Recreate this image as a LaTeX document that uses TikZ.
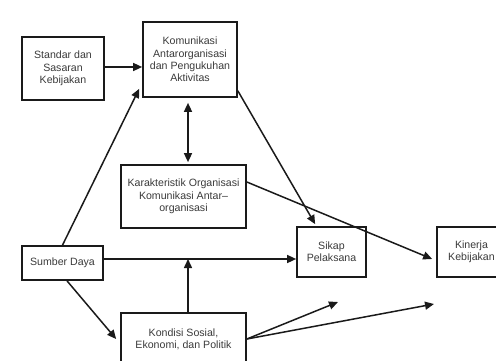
\documentclass[tikz,border=0pt]{standalone}
\usepackage{fontspec}
\setmainfont{Liberation Sans}
\usetikzlibrary{arrows.meta,calc}
\definecolor{txt}{HTML}{3A3A3A}
\definecolor{ln}{HTML}{1A1A1A}
\begin{document}
\begin{tikzpicture}[x=1pt,y=-1pt,
  box/.style={draw=ln,line width=1.7pt,align=center,inner sep=0pt,text=txt,
    font=\fontsize{10.6}{12.3}\selectfont},
  arr/.style={draw=ln,line width=1.5pt,-{Triangle[length=9pt,width=8pt]}},
  darr/.style={draw=ln,line width=1.5pt,{Triangle[length=9pt,width=8pt]}-{Triangle[length=9pt,width=8pt]}}]
\useasboundingbox (0,0) rectangle (496,361);
\clip (0,0) rectangle (496,361);
\node[box,minimum width=82pt,minimum height=63pt] (std) at (63,68.5) {Standar dan\\Sasaran\\Kebijakan};
\node[box,minimum width=94pt,minimum height=75pt] (kom) at (190,59.5) {Komunikasi\\Antarorganisasi\\dan Pengukuhan\\Aktivitas};
\node[box,minimum width=125pt,minimum height=63pt] (kar) at (183.5,196.5) {Karakteristik Organisasi\\Komunikasi Antar--\\organisasi};
\node[box,minimum width=81pt,minimum height=34pt] (sum) at (62.5,263) {Sumber Daya};
\node[box,minimum width=125pt,minimum height=52pt] (kon) at (183.5,339) {Kondisi Sosial,\\Ekonomi, dan Politik};
\node[box,minimum width=69pt,minimum height=50pt] (sik) at (331.5,252) {Sikap\\Pelaksana};
\node[box,minimum width=69pt,minimum height=50pt] (kin) at (471.5,252) {Kinerja\\Kebijakan};
\coordinate (j) at (188,259);
\coordinate (f1) at (338,302);
\coordinate (f2) at (434,304);
\draw[arr] ([yshift=1.5pt]std.east) -- ([yshift=1.5pt]std.east -| kom.west);
\draw[arr] (sum.north) -- ($(kom.south west)+(-3,-9)$);
\draw[darr,shorten <=5pt,shorten >=2pt] ([xshift=-2pt]kom.south) -- ([xshift=-2pt]kom.south |- kar.north);
\draw[arr] ([yshift=7pt]kom.south east) -- ([xshift=19pt,yshift=2pt]sik.north west);
\draw[arr] ([yshift=14.5pt]kar.east) -- ([xshift=-4pt,yshift=-7pt]kin.west);
\draw[arr] ([yshift=4pt]sum.east) -- ([yshift=4pt]sum.east -| sik.west);
\draw[arr] (kon.north -| j) -- (j);
\draw[arr] ([xshift=4.5pt]sum.south) -- ([xshift=-4pt]kon.west);
\draw[arr] (kon.east) -- (f1);
\draw[arr] (kon.east) -- (f2);
\end{tikzpicture}
\end{document}
